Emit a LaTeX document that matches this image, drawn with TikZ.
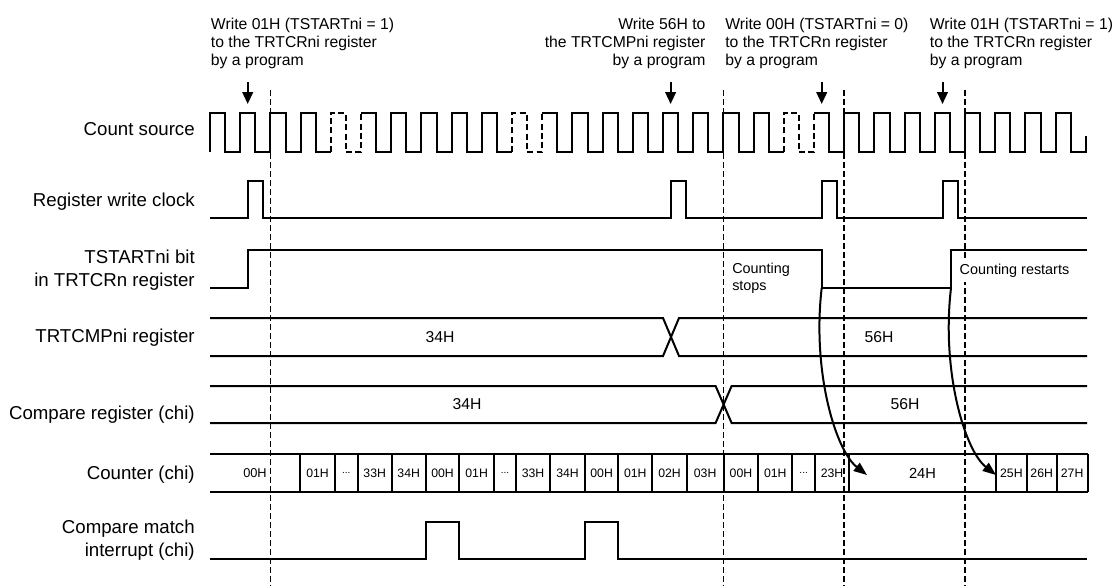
\documentclass[tikz,border=0pt]{standalone}
\usepackage{fontspec}
\setmainfont{Liberation Sans}
\usetikzlibrary{arrows.meta}
\newcommand{\celldots}{...}
\begin{document}
\begin{tikzpicture}[x=0.75pt,y=-0.75pt,
  sig/.style={line width=1.5pt, line join=miter},
  dsig/.style={line width=1.5pt, dash pattern=on 4.5pt off 2.5pt},
  marker/.style={line width=1.3pt, dash pattern=on 4.5pt off 2.25pt},
  lbl/.style={font=\fontsize{14}{16}\selectfont, anchor=base east, inner sep=0pt},
  ann/.style={font=\fontsize{11.8}{13.5}\selectfont, inner sep=0pt},
  busval/.style={font=\fontsize{11.8}{13}\selectfont, inner sep=0pt},
  note/.style={font=\fontsize{10.8}{12}\selectfont, inner sep=0pt, anchor=base west},
  warrow/.style={line width=1.5pt, -{Triangle[length=9pt,width=8pt]}},
  carrow/.style={line width=1.5pt, -{Triangle[length=10pt,width=7.5pt]}},
]
\useasboundingbox (0,0) rectangle (1119,586);

% ---- timing markers (dashed)
\foreach \mx [count=\i] in {270.4,723.6,844.2,965}{
  \coordinate (mt\i) at (\mx,90);
  \coordinate (mb\i) at (\mx,586);
  \draw[marker] (mt\i) -- (mb\i);
}

% ---- annotations
\node[ann, anchor=base west] (a1l1) at (210.7,29.6) {Write 01H (TSTARTni = 1)};
\node[ann, anchor=base west] (a1l2) at (210.7,47.6) {to the TRTCRni register};
\node[ann, anchor=base west] (a1l3) at (210.7,65.6) {by a program};
\node[ann, anchor=base east] (a2l1) at (705.7,29.6) {Write 56H to};
\node[ann, anchor=base east] (a2l2) at (705.7,47.6) {the TRTCMPni register};
\node[ann, anchor=base east] (a2l3) at (705.7,65.6) {by a program};
\node[ann, anchor=base west] (a3l1) at (725,29.6) {Write 00H (TSTARTni = 0)};
\node[ann, anchor=base west] (a3l2) at (725,47.6) {to the TRTCRn register};
\node[ann, anchor=base west] (a3l3) at (725,65.6) {by a program};
\node[ann, anchor=base west] (a4l1) at (929.6,29.6) {Write 01H (TSTARTni = 1)};
\node[ann, anchor=base west] (a4l2) at (929.6,47.6) {to the TRTCRn register};
\node[ann, anchor=base west] (a4l3) at (929.6,65.6) {by a program};

% ---- write arrows
\foreach \ax [count=\i] in {247.7,670.6,821.7,942.5}{
  \coordinate (as\i) at (\ax,82);
  \coordinate (ae\i) at (\ax,104);
  \draw[warrow] (as\i) -- (ae\i);
}

% ---- signal labels
\node[lbl] (lcs) at (195,135) {Count source};
\node[lbl] (lwc) at (195,206) {Register write clock};
\node[lbl] (lts1) at (195,263.3) {TSTARTni bit};
\node[lbl] (lts2) at (195,286) {in TRTCRn register};
\node[lbl] (lcmp) at (195,342.7) {TRTCMPni register};
\node[lbl] (lcr) at (195,419) {Compare register (chi)};
\node[lbl] (lcnt) at (195,479.5) {Counter (chi)};
\node[lbl] (lcm1) at (195,533.5) {Compare match};
\node[lbl] (lcm2) at (195,556.5) {interrupt (chi)};

% ---- count source
\draw[sig] (210,152) \foreach \m in {0,1,2,3}{
  -- ({210+30.2*\m},113) -- ({225.1+30.2*\m},113) -- ({225.1+30.2*\m},152) -- ({240.2+30.2*\m},152)};
\draw[dsig] ({210+30.2*4},152) -- ({210+30.2*4},113) -- ({225.1+30.2*4},113) -- ({225.1+30.2*4},152) -- ({210+30.2*5},152) -- ({210+30.2*5},113);
\draw[sig] ({210+30.2*5},113) \foreach \m in {5,6,7,8,9}{
  -- ({210+30.2*\m},113) -- ({225.1+30.2*\m},113) -- ({225.1+30.2*\m},152) -- ({240.2+30.2*\m},152)};
\draw[dsig] ({210+30.2*10},152) -- ({210+30.2*10},113) -- ({225.1+30.2*10},113) -- ({225.1+30.2*10},152) -- ({210+30.2*11},152) -- ({210+30.2*11},113);
\draw[sig] ({210+30.2*11},113) \foreach \m in {11,12,13,14,15,16,17,18}{
  -- ({210+30.2*\m},113) -- ({225.1+30.2*\m},113) -- ({225.1+30.2*\m},152) -- ({240.2+30.2*\m},152)};
\draw[dsig] ({210+30.2*19},152) -- ({210+30.2*19},113) -- ({225.1+30.2*19},113) -- ({225.1+30.2*19},152) -- ({210+30.2*20},152) -- ({210+30.2*20},113);
\draw[sig] ({210+30.2*20},113) \foreach \m in {20,21,22,23,24,25,26,27,28}{
  -- ({210+30.2*\m},113) -- ({225.1+30.2*\m},113) -- ({225.1+30.2*\m},152) -- ({240.2+30.2*\m},152)}
  -- ({210+30.2*29},136);

% ---- register write clock
\draw[sig] (210,218) -- (247.7,218) -- (247.7,181) -- (262.8,181) -- (262.8,218)
  -- (670.6,218) -- (670.6,181) -- (685.7,181) -- (685.7,218)
  -- (821.7,218) -- (821.7,181) -- (836.8,181) -- (836.8,218)
  -- (942.5,218) -- (942.5,181) -- (957.6,181) -- (957.6,218) -- (1087,218);

% ---- TSTARTni bit
\coordinate (stopc) at (821.7,288);
\coordinate (restc) at (951,288);
\draw[sig] (210,288) -- (247.7,288) -- (247.7,250) -- (821.7,250) -- (stopc)
  -- (restc) -- (951,250) -- (1087,250);
\node[note] (cst1) at (732,273.3) {Counting};
\node[note] (cst2) at (732,290) {stops};
\node[note, fill=white, inner xsep=1pt, inner ysep=4pt] (crs) at (958,274) {Counting restarts};

% ---- TRTCMPni register
\draw[sig] (210,318) -- (663,318) -- (679,356) -- (1087,356);
\draw[sig] (210,356) -- (663,356) -- (679,318) -- (1087,318);
\node[busval] (v1) at (440,337) {34H};
\node[busval] (v2) at (879,337) {56H};

% ---- compare register
\draw[sig] (210,386) -- (715.6,386) -- (731.6,423) -- (1087,423);
\draw[sig] (210,423) -- (715.6,423) -- (731.6,386) -- (1087,386);
\node[busval] (v3) at (467,404) {34H};
\node[busval] (v4) at (905,404) {56H};

% ---- counter
\draw[sig] (210,454) -- (1087.5,454);
\draw[sig] (210,492) -- (1087.5,492);
\foreach \a/\b/\lab/\fs [count=\i] in {210/300/00H/9.6, 300/335/01H/9.2, 335/357.7/\celldots/7.5, 357.7/391.7/33H/9.2,
  391.7/425.7/34H/9.2, 425.7/459.3/00H/9.2, 459.3/494/01H/9.2, 494/516/\celldots/7.5, 516/550/33H/9.2,
  550/585/34H/9.2, 585/618.3/00H/9.2, 618.3/652.3/01H/9.2, 652.3/686.7/02H/9.2, 686.7/723.6/03H/9.2,
  723.6/758.3/00H/9.2, 758.3/792.3/01H/9.2, 792.3/815/\celldots/7.5, 815/849/23H/9.2, 849/996/24H/11,
  996/1026.7/25H/9.2, 1026.7/1056.7/26H/9.2, 1056.7/1087.5/27H/9.2}{
  \draw[sig] (\b,454) -- (\b,492);
  \node[inner sep=0pt, font=\fontsize{\fs}{10}\selectfont] (c\i) at ({(\a+\b)/2},473) {\lab};
}

% ---- compare match interrupt
\draw[sig] (210,559) -- (425.7,559) -- (425.7,522) -- (459.3,522) -- (459.3,559)
  -- (585,559) -- (585,522) -- (618.3,522) -- (618.3,559) -- (1087,559);

% ---- curved arrows
\coordinate (tip1) at (867,475);
\coordinate (tip2) at (996,475);
\draw[carrow] (stopc) .. controls (812,370) and (835,450) .. (tip1);
\draw[carrow] (restc) .. controls (941.3,370) and (964.3,450) .. (tip2);
\end{tikzpicture}
\end{document}
